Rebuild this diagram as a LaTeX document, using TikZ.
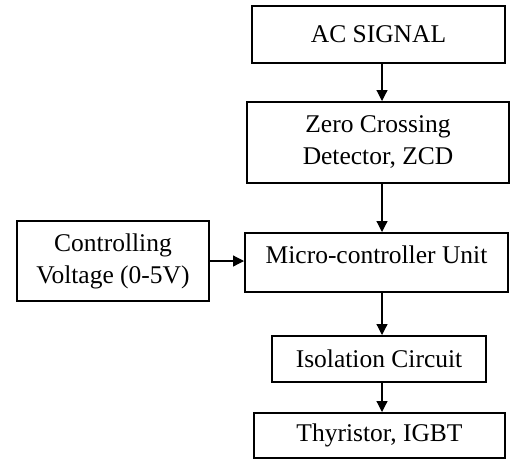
\documentclass[tikz,border=0pt]{standalone}
\usepackage{fontspec}
\setmainfont{Liberation Serif}
\usetikzlibrary{arrows.meta,positioning}
\tikzset{
  blk/.style={rectangle, draw=black, line width=2pt, inner sep=2pt,
              align=center, font=\fontsize{25.5}{32}\selectfont},
  flow/.style={-{Triangle[length=11pt,width=11pt]}, line width=1.2pt, black},
}
\begin{document}
\begin{tikzpicture}[x=1pt, y=-1pt]
  \useasboundingbox (0,0) rectangle (510,461);
  \node[blk, minimum width=253pt, minimum height=57pt] (ac)  at (378.5,34.5) {AC SIGNAL};
  \node[blk, minimum width=262pt, minimum height=81pt] (zcd) at (378,142.5) {Zero Crossing\\Detector, ZCD};
  \node[blk, minimum width=192pt, minimum height=80pt] (ctrl) at (113,261) {Controlling\\Voltage (0-5V)};
  \node[blk, minimum width=263pt, minimum height=59pt, text depth=15pt] (mcu) at (376.5,262.5) {Micro-controller Unit};
  \node[blk, minimum width=214pt, minimum height=46pt] (iso) at (379,359) {Isolation Circuit};
  \node[blk, minimum width=251pt, minimum height=45pt] (thy) at (379.5,435.5) {Thyristor, IGBT};
  \coordinate (spine) at (382,0);
  \draw[flow] (ac.south -| spine) -- (zcd.north -| spine);
  \draw[flow] (zcd.south -| spine) -- (mcu.north -| spine);
  \draw[flow] (ctrl.east) -- (ctrl.east -| mcu.west);
  \draw[flow] (mcu.south -| spine) -- (iso.north -| spine);
  \draw[flow] (iso.south -| spine) -- (thy.north -| spine);
\end{tikzpicture}
\end{document}
